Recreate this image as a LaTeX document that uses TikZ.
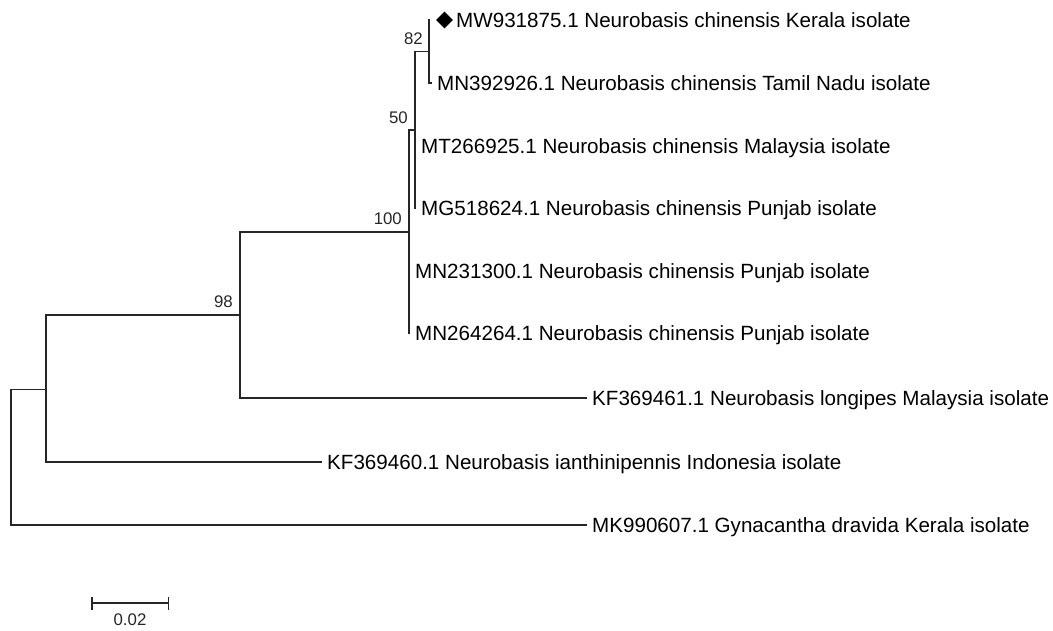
\documentclass[tikz,border=0pt]{standalone}
\usepackage{fontspec}
\setmainfont{Liberation Sans}
\usepackage{tikz}
\usetikzlibrary{shapes.geometric, arrows.meta, positioning}
\tikzstyle{branch} = [line width=1.5pt, draw=black!85]
\tikzstyle{leaf} = [anchor=west, inner xsep=5pt, inner ysep=0pt, text height=14.8pt, text depth=0pt, font=\fontsize{20.6}{24}\selectfont]
\tikzstyle{boot} = [inner sep=0pt, text height=11.8pt, text depth=0pt, font=\fontsize{16.8}{20}\selectfont, text=black!85]
\tikzstyle{taxonmark} = [diamond, fill=black, inner sep=0pt, minimum size=17pt]

\begin{document}
\begin{tikzpicture}[x=1pt, y=-1pt]
        \useasboundingbox (0,0) rectangle (1053,630);

        \coordinate (root) at (11,457);
        \coordinate (ingroup) at (46,389.5);
        \coordinate (clade-98) at (240,315);
        \coordinate (clade-100) at (409,232);
        \coordinate (clade-50) at (415,130);
        \coordinate (clade-82) at (429,51.5);

        \node (mw-diamond) [taxonmark] at (444.5,20) {};
        \node (mw931875) [leaf] at (451,20) {MW931875.1 Neurobasis chinensis Kerala isolate};
        \node (mn392926) [leaf] at (432,83) {MN392926.1 Neurobasis chinensis Tamil Nadu isolate};
        \node (mt266925) [leaf] at (416,146) {MT266925.1 Neurobasis chinensis Malaysia isolate};
        \node (mg518624) [leaf] at (416,208) {MG518624.1 Neurobasis chinensis Punjab isolate};
        \node (mn231300) [leaf] at (410,271) {MN231300.1 Neurobasis chinensis Punjab isolate};
        \node (mn264264) [leaf] at (410,333) {MN264264.1 Neurobasis chinensis Punjab isolate};
        \node (kf369461) [leaf] at (587,398) {KF369461.1 Neurobasis longipes Malaysia isolate};
        \node (kf369460) [leaf] at (322,462) {KF369460.1 Neurobasis ianthinipennis Indonesia isolate};
        \node (mk990607) [leaf] at (587,525) {MK990607.1 Gynacantha dravida Kerala isolate};

        \node (bs-98) [boot, above left=7.5pt and 7pt of clade-98] {98};
        \node (bs-100) [boot, above left=7pt and 7pt of clade-100] {100};
        \node (bs-50) [boot, above left=6pt and 7pt of clade-50] {50};
        \node (bs-82) [boot, above left=7pt and 6pt of clade-82] {82};

        \draw [branch] (root) |- (ingroup);
        \draw [branch] (root) |- (mk990607.west);
        \draw [branch] (ingroup) |- (clade-98);
        \draw [branch] (ingroup) |- (kf369460.west);
        \draw [branch] (clade-98) |- (clade-100);
        \draw [branch] (clade-98) |- (kf369461.west);
        \draw [branch] (clade-100) |- (clade-50);
        \draw [branch] (clade-100) |- (mn231300.west);
        \draw [branch] (clade-100) |- (mn264264.west);
        \draw [branch] (clade-50) |- (clade-82);
        \draw [branch] (clade-50) |- (mt266925.west);
        \draw [branch] (clade-50) |- (mg518624.west);
        \draw [branch, shorten >=6pt] (clade-82) |- (mw-diamond.west);
        \draw [branch] (clade-82) |- (mn392926.west);

        \coordinate (bar-start) at (91,603);
        \coordinate (bar-end) at (169,603);
        \draw [branch, {Bar[width=13pt]}-{Bar[width=13pt]}] (bar-start) -- node[boot, below=10pt] (scale-label) {0.02} (bar-end);
    \end{tikzpicture}
\end{document}
